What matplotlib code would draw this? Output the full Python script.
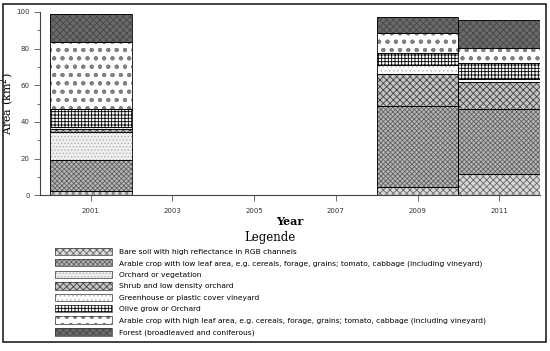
import matplotlib
matplotlib.use('Agg')
import matplotlib.pyplot as plt
from matplotlib.patches import Patch, Rectangle
from matplotlib.legend_handler import HandlerTuple
import numpy as np

# Data (km2 per class, stacked bottom to top)
years = [2001, 2009, 2011]
classes = [
    'Bare soil with high reflectance in RGB channels',
    'Arable crop with low leaf area, e.g. cereals, forage, grains; tomato, cabbage (including vineyard)',
    'Orchard or vegetation',
    'Shrub and low density orchard',
    'Greenhouse or plastic cover vineyard',
    'Olive grow or Orchard',
    'Arable crop with high leaf area, e.g. cereals, forage, grains; tomato, cabbage (including vineyard)',
    'Forest (broadleaved and coniferous)',
]
bare_soil = [2.2, 4.5, 11.5]
arable_low = [17.0, 44.1, 35.5]
orchard = [15.0, 0.0, 0.0]
shrub = [2.0, 17.5, 14.9]
greenhouse = [1.0, 4.9, 1.5]
olive = [10.0, 6.4, 8.6]
arable_high = [36.2, 11.3, 8.5]
forest = [15.3, 8.4, 14.9]
series = [bare_soil, arable_low, orchard, shrub, greenhouse, olive, arable_high, forest]

# styles: facecolor, hatch colour, hatch
styles = [
    ('#d8d8d8', '#666666', 'xxxxx'),
    ('#b8b8b8', '#606060', 'xxxxxxx'),
    ('#f0f0f0', '#b0b0b0', '.....'),
    ('#c4c4c4', '#404040', 'xxxxx'),
    ('#ffffff', '#bbbbbb', '....'),
    ('#ffffff', '#000000', '+++++'),
    ('#ffffff', '#808080', 'oo..'),
    ('#6a6a6a', '#454545', 'xxxxx'),
]

plt.rcParams['hatch.linewidth'] = 0.6

fig = plt.figure(figsize=(5.5, 3.51), dpi=100)
ax = fig.add_axes([0.073, 0.444, 0.909, 0.522])

bottom = np.zeros(len(years))
for vals, (fc, hc, h) in zip(series, styles):
    ax.bar(years, vals, width=2, bottom=bottom, color=fc, edgecolor=hc,
           hatch=h, linewidth=0)
    ax.bar(years, vals, width=2, bottom=bottom, fill=False,
           edgecolor='black', linewidth=0.6)
    bottom += np.array(vals)

ax.set_xlim(1999.76, 2012)
ax.set_ylim(0, 100)
ax.set_xticks([2001, 2003, 2005, 2007, 2009, 2011])
ax.set_yticks(range(0, 101, 20))
ax.set_yticks(range(10, 100, 20), minor=True)
ax.tick_params(labelsize=5, length=4, width=0.6, color='#555555', labelcolor='#333333')
ax.tick_params(axis='x', pad=5)
ax.tick_params(which='minor', length=2.5, width=0.6, color='#555555')
for s in ['top', 'right']:
    ax.spines[s].set_visible(False)
for s in ['left', 'bottom']:
    ax.spines[s].set_linewidth(0.8)
    ax.spines[s].set_color('#444444')

ax.set_xlabel('Year', family='DejaVu Serif', fontsize=8, fontweight='bold', labelpad=2)
ax.set_ylabel('Area (km$^2$)', family='DejaVu Serif', fontsize=8)
ax.yaxis.set_label_coords(-0.047, 0.5)

handles = [(Patch(facecolor=fc, edgecolor=hc, hatch=h, linewidth=0),
            Patch(fill=False, edgecolor='#333333', linewidth=0.5))
           for fc, hc, h in styles]
leg = fig.legend(handles, classes, loc='upper left', bbox_to_anchor=(0.1, 0.343),
                 handler_map={tuple: HandlerTuple(ndivide=1)},
                 frameon=False, fontsize=5.4, handlelength=7.6, handleheight=1.15,
                 labelspacing=0.53, handletextpad=0.9, borderaxespad=0, borderpad=0,
                 title='Legende', title_fontproperties={'family': 'DejaVu Serif', 'size': 8.5})

fig.patches.append(Rectangle((0.006, 0.025), 0.986, 0.965, transform=fig.transFigure,
                             fill=False, edgecolor='#222222', linewidth=1.2))

fig.savefig('out.png', dpi=100)
